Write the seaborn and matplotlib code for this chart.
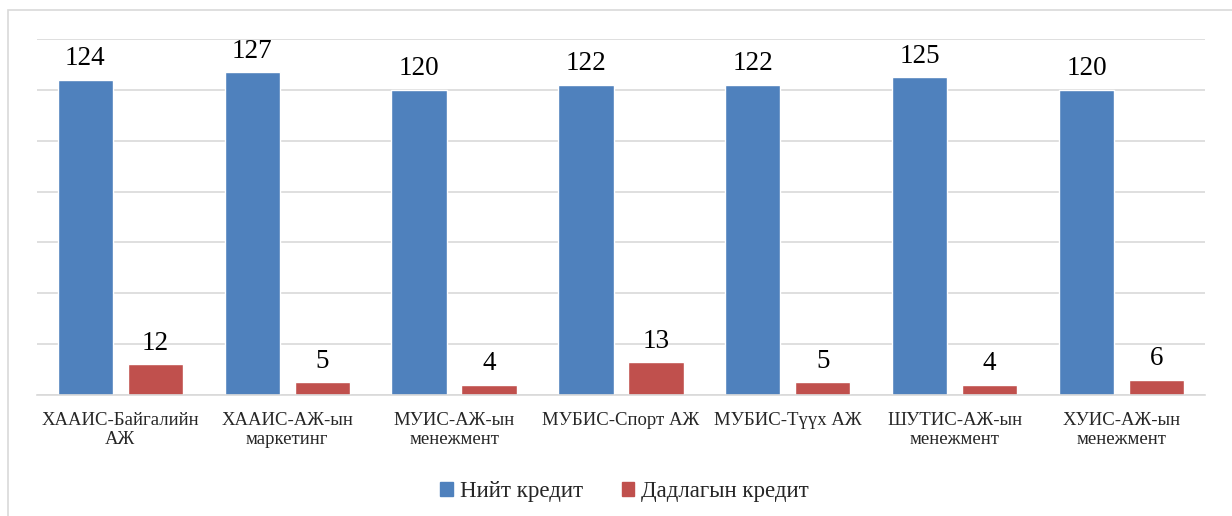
import pandas as pd
import matplotlib.pyplot as plt
import matplotlib.patches as mpatches
import seaborn as sns

# data
programs = ["ХААИС-Байгалийн\nАЖ", "ХААИС-АЖ-ын\nмаркетинг", "МУИС-АЖ-ын\nменежмент",
            "МУБИС-Спорт АЖ", "МУБИС-Түүх АЖ", "ШУТИС-АЖ-ын\nменежмент", "ХУИС-АЖ-ын\nменежмент"]
total_credit = [124, 127, 120, 122, 122, 125, 120]
practice_credit = [12, 5, 4, 13, 5, 4, 6]
series = ["Нийт кредит", "Дадлагын кредит"]
colors = ["#4F81BD", "#C0504D"]

df = pd.DataFrame({
    "program": programs * 2,
    "credit": total_credit + practice_credit,
    "type": [series[0]] * len(programs) + [series[1]] * len(programs),
})

sns.set_style("white")
plt.rcParams["font.family"] = ["Liberation Serif", "DejaVu Serif"]

fig = plt.figure(figsize=(12.32, 5.16), dpi=100)
ax = fig.add_axes([0.030, 0.2345, 0.948, 0.690])

sns.barplot(data=df, x="program", y="credit", hue="type", palette=colors,
            width=0.84, gap=0.21, ax=ax, legend=False, saturation=1)

for c in ax.containers:
    ax.bar_label(c, padding=6, fontsize=19.5, color="#000000")

ax.set_ylim(0, 140)
ax.set_yticks(range(0, 141, 20))
ax.set_yticklabels([])
ax.tick_params(axis="y", length=0)
ax.tick_params(axis="x", length=0, pad=12, labelsize=13.5)
ax.yaxis.grid(True, color="#D9D9D9", linewidth=1.2)
ax.set_axisbelow(True)
for s in ["top", "right", "left"]:
    ax.spines[s].set_visible(False)
ax.spines["bottom"].set_color("#D9D9D9")
ax.spines["bottom"].set_linewidth(1.2)
ax.set_xlabel("")
ax.set_ylabel("")
ax.set_xlim(-0.5, len(programs) - 0.5)

handles = [mpatches.Patch(color=colors[i], label=series[i]) for i in range(2)]
fig.legend(handles=handles, loc="center", bbox_to_anchor=(0.507, 0.048), ncol=2,
           frameon=False, fontsize=16.5, handlelength=0.55, handleheight=0.55,
           handletextpad=0.3, columnspacing=1.7)

# outer chart border
fig.patches.append(mpatches.Rectangle((8 / 1232, -0.1), 1.2, 1.1 - 10 / 516,
                                      transform=fig.transFigure, fill=False,
                                      edgecolor="#D9D9D9", linewidth=1.2))

fig.savefig("out.png", dpi=100)
